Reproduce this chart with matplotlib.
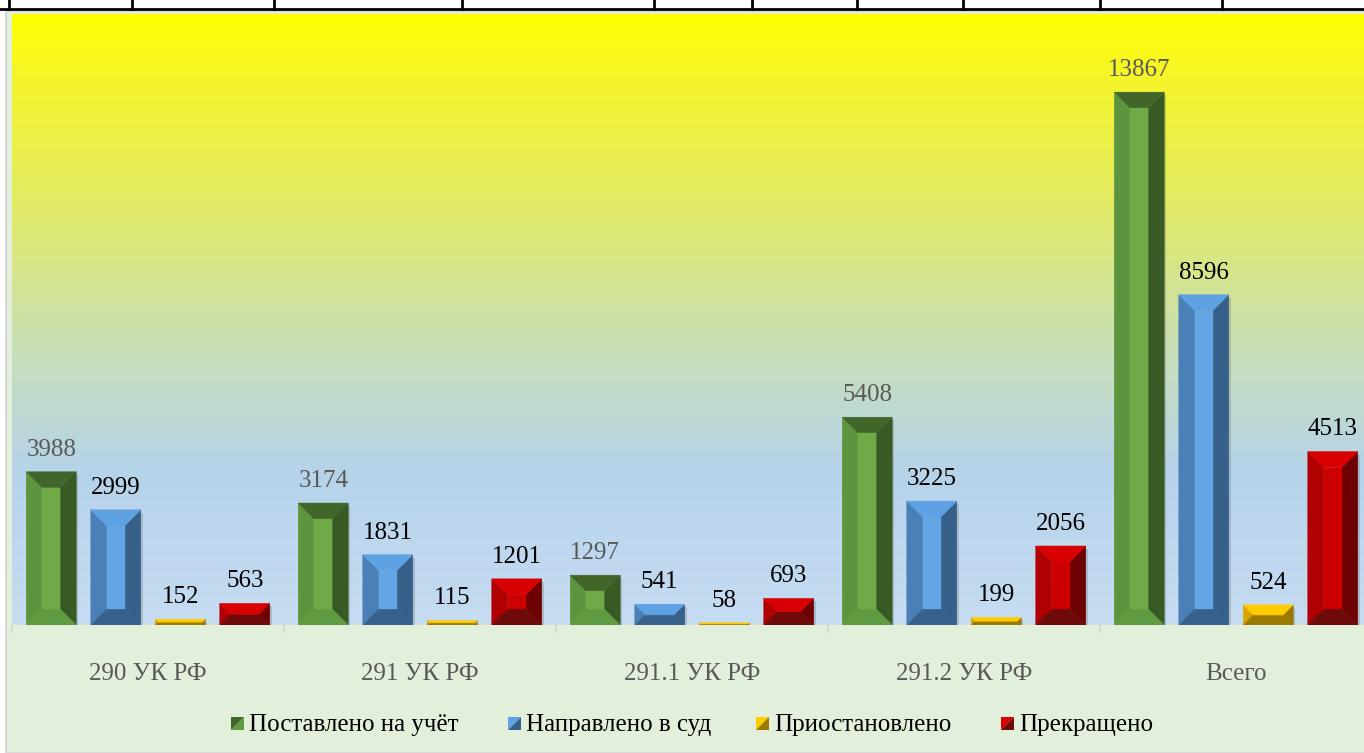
import numpy as np
import matplotlib.pyplot as plt
from matplotlib.patches import Polygon, Rectangle
from matplotlib.colors import LinearSegmentedColormap

plt.rcParams['font.family'] = ['Liberation Serif', 'DejaVu Serif']

categories = ['290 УК РФ', '291 УК РФ', '291.1 УК РФ', '291.2 УК РФ', 'Всего']
series_names = ['Поставлено на учёт', 'Направлено в суд', 'Приостановлено', 'Прекращено']
registered = [3988, 3174, 1297, 5408, 13867]
to_court = [2999, 1831, 541, 3225, 8596]
suspended = [152, 115, 58, 199, 524]
terminated = [563, 1201, 693, 2056, 4513]
values = [registered, to_court, suspended, terminated]

# bevel face colours: top, left, right, bottom, centre
faces = [
    ['#42652a', '#5d953f', '#395a25', '#5f9b40', '#6faa47'],
    ['#5ea2e4', '#4a80b8', '#36608a', '#37608a', '#62a5e2'],
    ['#ffcc00', '#d9a600', '#9b7700', '#9b7a00', '#f2bd00'],
    ['#d80000', '#b00000', '#6e0000', '#6e0a0a', '#cc0000'],
]
label_colors = ['#595959', 'black', 'black', 'black']

W, H = 1364, 753
fig = plt.figure(figsize=(W / 100, H / 100), dpi=100)
fig.patch.set_facecolor('white')

# chart area background
bg = Rectangle((6 / W, 0), 1, (H - 11) / H, transform=fig.transFigure,
               facecolor='#e2efda', edgecolor='#d9d9d9', lw=1.5, zorder=-5)
fig.patches.append(bg)
# remains of the table above the chart
fig.add_artist(plt.Line2D([0, 1], [(H - 9) / H] * 2, color='black', lw=2))
for xp in [9, 132, 274, 462, 654, 752, 857, 963, 1100, 1222]:
    fig.add_artist(plt.Line2D([xp / W] * 2, [(H - 9) / H, 1], color='black', lw=2))

ax_left, ax_right, ax_bot, ax_top = 12, 1372, 128, H - 14
ax = fig.add_axes([ax_left / W, ax_bot / H, (ax_right - ax_left) / W, (ax_top - ax_bot) / H])
ax.patch.set_alpha(0)
ax.set_autoscale_on(False)
xmin, xmax, ymax = -0.5, 4.5, 15900
ax.set_xlim(xmin, xmax)
ax.set_ylim(0, ymax)

grad_cmap = LinearSegmentedColormap.from_list('bg', [
    (0.0, '#ffff00'), (0.1, '#f5f52a'), (0.3, '#e3eb62'),
    (0.55, '#c8dfb8'), (0.75, '#b6d3ea'), (1.0, '#c6dcf2')])
grad = np.linspace(0, 1, 256).reshape(-1, 1)
ax.imshow(grad, cmap=grad_cmap, extent=[0, 1, 0, 1], transform=ax.transAxes,
          aspect='auto', zorder=0)

for s in ax.spines.values():
    s.set_visible(False)
ax.axhline(0, color='#d9d9d9', lw=1.5, zorder=1)
ax.set_yticks([])
ax.set_xticks(range(len(categories)))
ax.set_xticklabels(categories, fontsize=18, color='#595959')
ax.tick_params(axis='x', which='major', length=0, pad=27)
ax.set_xticks(np.arange(xmin, xmax + 0.01, 1), minor=True)
ax.tick_params(axis='x', which='minor', length=6, color='#d9d9d9', width=1.5)

xpx = (ax_right - ax_left) / (xmax - xmin)
ypx = (ax_top - ax_bot) / ymax
bar_w = 50 / xpx
step = 64.5 / xpx
bevel = 16

for si, vals in enumerate(values):
    top_c, left_c, right_c, bot_c, mid_c = faces[si]
    for ci, v in enumerate(vals):
        xc = ci + (si - 1.5) * step
        x0, x1 = xc - bar_w / 2, xc + bar_w / 2
        b = min(bevel, v * ypx / 2)
        bx, by = b / xpx, b / ypx
        xi0, xi1, yi0, yi1 = x0 + bx, x1 - bx, by, v - by
        ax.add_patch(Rectangle((x0 + 2 / xpx, -3 / ypx), bar_w, v, facecolor='#606060',
                               alpha=0.25, lw=0, zorder=2))
        polys = [
            ([(x0, 0), (x0, v), (xi0, yi1), (xi0, yi0)], left_c),
            ([(x1, 0), (x1, v), (xi1, yi1), (xi1, yi0)], right_c),
            ([(x0, 0), (x1, 0), (xi1, yi0), (xi0, yi0)], bot_c),
            ([(x0, v), (x1, v), (xi1, yi1), (xi0, yi1)], top_c),
            ([(xi0, yi0), (xi1, yi0), (xi1, yi1), (xi0, yi1)], mid_c),
        ]
        for pts, c in polys:
            ax.add_patch(Polygon(pts, closed=True, facecolor=c, edgecolor=c, lw=0.3, zorder=3))
        ax.annotate(str(v), (xc, v), xytext=(0, 8), textcoords='offset points',
                    ha='center', va='bottom', fontsize=18, color=label_colors[si], zorder=4)

# legend
leg_x = [231, 508, 756, 1001]
ms = 13
for si, name in enumerate(series_names):
    x0 = leg_x[si] / W
    y0 = (H - 730) / H
    dx, dy = ms / W, ms / H
    fig.patches.append(Polygon([(x0, y0), (x0, y0 + dy), (x0 + dx, y0 + dy)], closed=True,
                               transform=fig.transFigure, facecolor=faces[si][0], lw=0))
    fig.patches.append(Polygon([(x0, y0), (x0 + dx, y0), (x0 + dx, y0 + dy)], closed=True,
                               transform=fig.transFigure, facecolor=faces[si][3], lw=0))
    fig.text(x0 + dx + 5 / W, (H - 725) / H, name, fontsize=18, color='black',
             ha='left', va='center')

fig.savefig('out.png', dpi=100)
